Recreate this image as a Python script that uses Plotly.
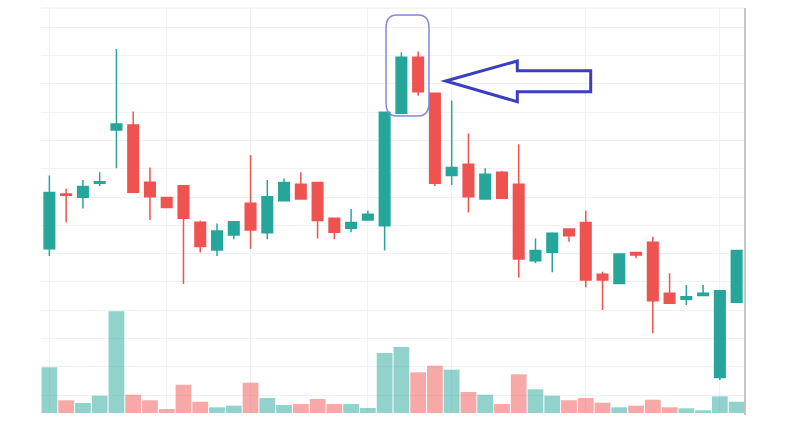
import plotly.graph_objects as go

# ---- data (arbitrary price units) ----
idx = list(range(42))
open_ = [11.17, 13.11, 12.99, 13.49, 15.37, 15.55, 13.52, 12.98, 13.40, 12.11,
         11.13, 11.66, 12.78, 11.74, 12.87, 13.45, 13.51, 12.25, 11.90, 12.19,
         11.99, 15.96, 17.94, 16.67, 13.76, 14.16, 12.93, 13.88, 13.45, 10.75,
         11.05, 11.87, 12.10, 10.27, 9.95, 11.04, 11.40, 9.60, 9.39, 9.52,
         6.62, 9.28]
high = [13.76, 13.29, 13.60, 13.88, 18.23, 16.02, 14.04, 13.00, 13.42, 12.16,
        12.07, 12.15, 14.49, 13.60, 13.66, 13.88, 13.54, 12.27, 12.58, 12.52,
        16.02, 18.12, 18.14, 16.69, 16.41, 15.25, 14.02, 13.92, 14.87, 11.54,
        11.76, 11.89, 12.52, 10.36, 11.01, 11.06, 11.60, 10.31, 9.89, 9.89,
        9.71, 11.13]
low = [10.92, 12.10, 12.60, 13.39, 14.02, 13.15, 12.19, 12.61, 9.93, 11.04,
       10.92, 11.51, 11.17, 11.51, 12.85, 12.91, 11.54, 11.51, 11.76, 12.17,
       11.11, 15.94, 16.58, 13.39, 13.43, 12.45, 12.91, 12.94, 10.15, 10.66,
       10.34, 11.42, 9.81, 9.01, 9.93, 10.84, 8.19, 9.23, 9.19, 9.50,
       6.54, 9.26]
close = [13.16, 13.06, 13.37, 13.54, 15.58, 13.17, 13.01, 12.63, 12.25, 11.25,
         11.80, 12.13, 11.84, 13.01, 13.51, 12.93, 12.17, 11.76, 12.10, 12.39,
         16.00, 17.94, 16.72, 13.49, 14.04, 13.01, 13.81, 12.96, 10.81, 11.11,
         11.72, 11.63, 10.07, 10.07, 10.99, 10.95, 9.34, 9.25, 9.48, 9.60,
         9.69, 11.11]
volume = [4570, 1270, 1000, 1730, 10170, 1830, 1270, 400, 2830, 1130,
          570, 730, 3030, 1500, 800, 900, 1400, 900, 900, 500,
          6000, 6600, 4070, 4730, 4330, 2100, 1830, 900, 3870, 2370,
          1730, 1270, 1500, 1030, 570, 730, 1330, 570, 470, 270,
          1670, 1130]
grid_x = [0, 7, 12, 19, 24, 32, 40]

UP, DOWN = "#26a69a", "#ef5350"
VUP, VDOWN = "rgba(38,166,154,0.5)", "rgba(239,83,80,0.5)"
vol_colors = [VUP if c >= o else VDOWN for o, c in zip(open_, close)]

fig = go.Figure()
fig.add_trace(go.Bar(x=idx, y=volume, marker=dict(color=vol_colors, line=dict(width=0)),
                     yaxis="y2", showlegend=False, hoverinfo="skip"))
fig.add_trace(go.Candlestick(
    x=idx, open=open_, high=high, low=low, close=close,
    increasing=dict(line=dict(color=UP, width=1.5), fillcolor=UP),
    decreasing=dict(line=dict(color=DOWN, width=1.5), fillcolor=DOWN),
    whiskerwidth=0, showlegend=False))

W, H = 788, 431
L, R, T, B = 41, 43, 8, 18
pw, ph = W - L - R, H - T - B


def px(x):
    return (x - L) / pw


def py(y):
    return (H - B - y) / ph


# rounded highlight box (pixel geometry of the overlay drawing)
bx0, bx1, by0, by1, rx, ry = 386, 429, 15, 116, 11, 13
rect = (f"M{px(bx0 + rx)},{py(by0)} L{px(bx1 - rx)},{py(by0)} "
        f"Q{px(bx1)},{py(by0)} {px(bx1)},{py(by0 + ry)} "
        f"L{px(bx1)},{py(by1 - ry)} Q{px(bx1)},{py(by1)} {px(bx1 - rx)},{py(by1)} "
        f"L{px(bx0 + rx)},{py(by1)} Q{px(bx0)},{py(by1)} {px(bx0)},{py(by1 - ry)} "
        f"L{px(bx0)},{py(by0 + ry)} Q{px(bx0)},{py(by0)} {px(bx0 + rx)},{py(by0)} Z")

arrow_pts = [(445.7, 81), (517.3, 61), (517.3, 70.7), (590.7, 70.7),
             (590.7, 91.7), (517.3, 91.7), (517.3, 101.7)]
arrow = "M" + " L".join(f"{px(x)},{py(y)}" for x, y in arrow_pts) + " Z"

shapes = [
    dict(type="line", xref="paper", yref="paper", x0=0, x1=1, y0=1, y1=1,
         line=dict(color="#e8e8e8", width=1)),
    dict(type="line", xref="paper", yref="paper", x0=1, x1=1, y0=-0.005, y1=1,
         line=dict(color="#b4b4b4", width=1.5)),
    dict(type="path", xref="paper", yref="paper", path=rect,
         line=dict(color="#8487dc", width=1.5)),
    dict(type="path", xref="paper", yref="paper", path=arrow,
         line=dict(color="#3a3fc0", width=3)),
]

fig.update_layout(
    width=W, height=H, margin=dict(l=L, r=R, t=T, b=B),
    paper_bgcolor="white", plot_bgcolor="white",
    bargap=0.06, boxgap=0.1,
    xaxis=dict(range=[-0.5, 41.5], tickmode="array", tickvals=grid_x,
               showticklabels=False, showgrid=True, gridcolor="#f1f1f3",
               zeroline=False, rangeslider=dict(visible=False), ticks=""),
    yaxis=dict(range=[5.37, 19.68], tick0=0, dtick=1, showticklabels=False,
               showgrid=True, gridcolor="#f1f1f3", zeroline=False, ticks=""),
    yaxis2=dict(range=[0, 40500], overlaying="y", showgrid=False,
                showticklabels=False, zeroline=False),
    shapes=shapes,
)

fig.write_html("out.html")
